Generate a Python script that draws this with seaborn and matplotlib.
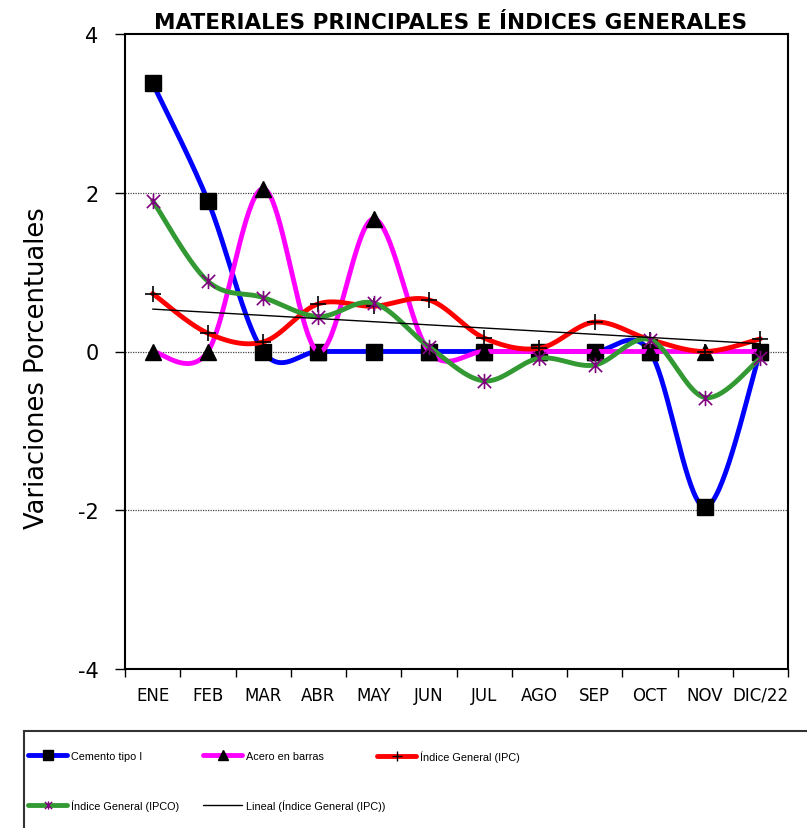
import numpy as np
import pandas as pd
import matplotlib
matplotlib.use("Agg")
import matplotlib.pyplot as plt
import seaborn as sns
from matplotlib.path import Path
from matplotlib.lines import Line2D
from matplotlib.patches import Rectangle

# ---------------- data ----------------
months = ["ENE", "FEB", "MAR", "ABR", "MAY", "JUN", "JUL", "AGO", "SEP", "OCT", "NOV", "DIC/22"]
cemento = [3.38, 1.90, 0.0, 0.0, 0.0, 0.0, 0.0, 0.0, 0.0, 0.0, -1.96, 0.0]
acero = [0.0, 0.0, 2.05, 0.0, 1.67, 0.0, 0.0, 0.0, 0.0, 0.0, 0.0, 0.0]
ipc = [0.73, 0.23, 0.12, 0.60, 0.57, 0.65, 0.17, 0.04, 0.37, 0.15, 0.0, 0.16]
ipco = [1.90, 0.885, 0.68, 0.44, 0.61, 0.06, -0.37, -0.085, -0.17, 0.15, -0.58, -0.085]
y_ticks = [-4, -2, 0, 2, 4]

labels = ["Cemento tipo I", "Acero en barras", "Índice General (IPC)",
          "Índice General (IPCO)", "Lineal (Índice General (IPC))"]

# ---------------- style ----------------
sns.set_style("ticks")
plt.rcParams["font.family"] = ["DejaVu Sans"]
plt.rcParams["text.color"] = "black"
plt.rcParams["axes.labelcolor"] = "black"
plt.rcParams["xtick.color"] = "black"
plt.rcParams["ytick.color"] = "black"

W, H = 807, 829
fig = plt.figure(figsize=(W / 100, H / 100), dpi=100)
ax = fig.add_axes([125 / W, 1 - 670 / H, (788 - 125) / W, (670 - 35) / H])

x = np.arange(len(months), dtype=float)


def smooth(xv, yv, n=40):
    pts = np.column_stack([xv, yv])
    P = np.vstack([pts[0], pts, pts[-1]])
    out = []
    t = np.linspace(0, 1, n)[:, None]
    for i in range(len(pts) - 1):
        p0, p1, p2, p3 = P[i], P[i + 1], P[i + 2], P[i + 3]
        c1 = p1 + (p2 - p0) / 6
        c2 = p2 - (p3 - p1) / 6
        seg = (1 - t) ** 3 * p1 + 3 * (1 - t) ** 2 * t * c1 + 3 * (1 - t) * t ** 2 * c2 + t ** 3 * p2
        out.append(seg if i == 0 else seg[1:])
    s = np.vstack(out)
    return s[:, 0], s[:, 1]


# star marker (X with vertical bar)
star = Path([(0, -1), (0, 1), (-0.87, -0.87), (0.87, 0.87), (-0.87, 0.87), (0.87, -0.87)],
            [Path.MOVETO, Path.LINETO, Path.MOVETO, Path.LINETO, Path.MOVETO, Path.LINETO])

series = [
    (cemento, "#0000FF", dict(marker="s", ms=12, mfc="black", mec="black")),
    (acero, "#FF00FF", dict(marker="^", ms=11.5, mfc="black", mec="black")),
    (ipc, "#FF0000", dict(marker="+", ms=11, mec="black", mew=1.2)),
    (ipco, "#339933", dict(marker=star, ms=11, mfc="none", mec="#800080", mew=1.2)),
]

# grid lines
for gy in [2, 0, -2]:
    ax.axhline(gy, color="#444444", lw=0.9, ls=(0, (1, 1)), zorder=1)

z = 3
for vals, col, mk in series:
    sx, sy = smooth(x, np.array(vals, dtype=float))
    df = pd.DataFrame({"x": sx, "y": sy})
    sns.lineplot(data=df, x="x", y="y", sort=False, estimator=None, color=col,
                 lw=3.5, ax=ax, zorder=z, solid_capstyle="round")
    ax.plot(x, vals, ls="none", zorder=z + 0.5, **mk)
    z += 1

# linear trendline of IPC
coef = np.polyfit(x, ipc, 1)
trend = np.polyval(coef, x)
sns.lineplot(x=x, y=trend, color="black", lw=1.0, ax=ax, zorder=z)

# axes
ax.set_xlim(-0.5, len(months) - 0.5)
ax.set_ylim(-4, 4)
ax.set_yticks(y_ticks)
ax.set_yticklabels([str(v) for v in y_ticks], fontsize=15)
ax.tick_params(axis="y", direction="out", length=7, width=1, pad=12, colors="black")
ax.set_xticks(np.arange(-0.5, len(months), 1.0))
ax.set_xticklabels([])
ax.tick_params(axis="x", which="major", direction="out", length=6, width=1, colors="black")
ax.set_xticks(x, minor=True)
ax.set_xticklabels(months, minor=True, fontsize=12)
ax.tick_params(axis="x", which="minor", length=0, pad=12, colors="black")
ax.set_xlabel("")
ax.set_ylabel("")
for s in ax.spines.values():
    s.set_visible(True)
    s.set_color("black")
    s.set_linewidth(1.5)

# title and y label
fig.text(451 / W, 1 - 23 / H, "MATERIALES PRINCIPALES E ÍNDICES GENERALES",
         ha="center", va="center", fontsize=15.5, fontweight="bold", color="black")
fig.text(37 / W, 1 - 368 / H, "Variaciones Porcentuales", rotation=90,
         ha="center", va="center", fontsize=18.5, color="black")

# legend
handles = [
    Line2D([], [], color="#0000FF", lw=3.5, marker="s", ms=7, mfc="black", mec="black"),
    Line2D([], [], color="#FF00FF", lw=3.5, marker="^", ms=7, mfc="black", mec="black"),
    Line2D([], [], color="#FF0000", lw=3.5, marker="+", ms=7, mec="black", mew=1),
    Line2D([], [], color="#339933", lw=3.5, marker=star, ms=6, mfc="none", mec="#800080", mew=1),
    Line2D([], [], color="black", lw=1),
]
pos = [(28, 757), (203, 757), (377, 757), (28, 806), (203, 806)]
for h, lab, (px, py) in zip(handles, labels, pos):
    fig.legend([h], [lab], loc="center left", bbox_to_anchor=(px / W, 1 - py / H),
               frameon=False, prop={"family": "Liberation Sans", "size": 7.8},
               handlelength=3.6, handletextpad=0.35,
               borderpad=0, borderaxespad=0, numpoints=1, labelcolor="black")

fig.patches.append(Rectangle((24 / W, -0.02), (815 - 24) / W, (1 - 732 / H) + 0.02,
                             transform=fig.transFigure, fill=False,
                             edgecolor="#333333", lw=1.5))

fig.savefig("out.png", dpi=100)
